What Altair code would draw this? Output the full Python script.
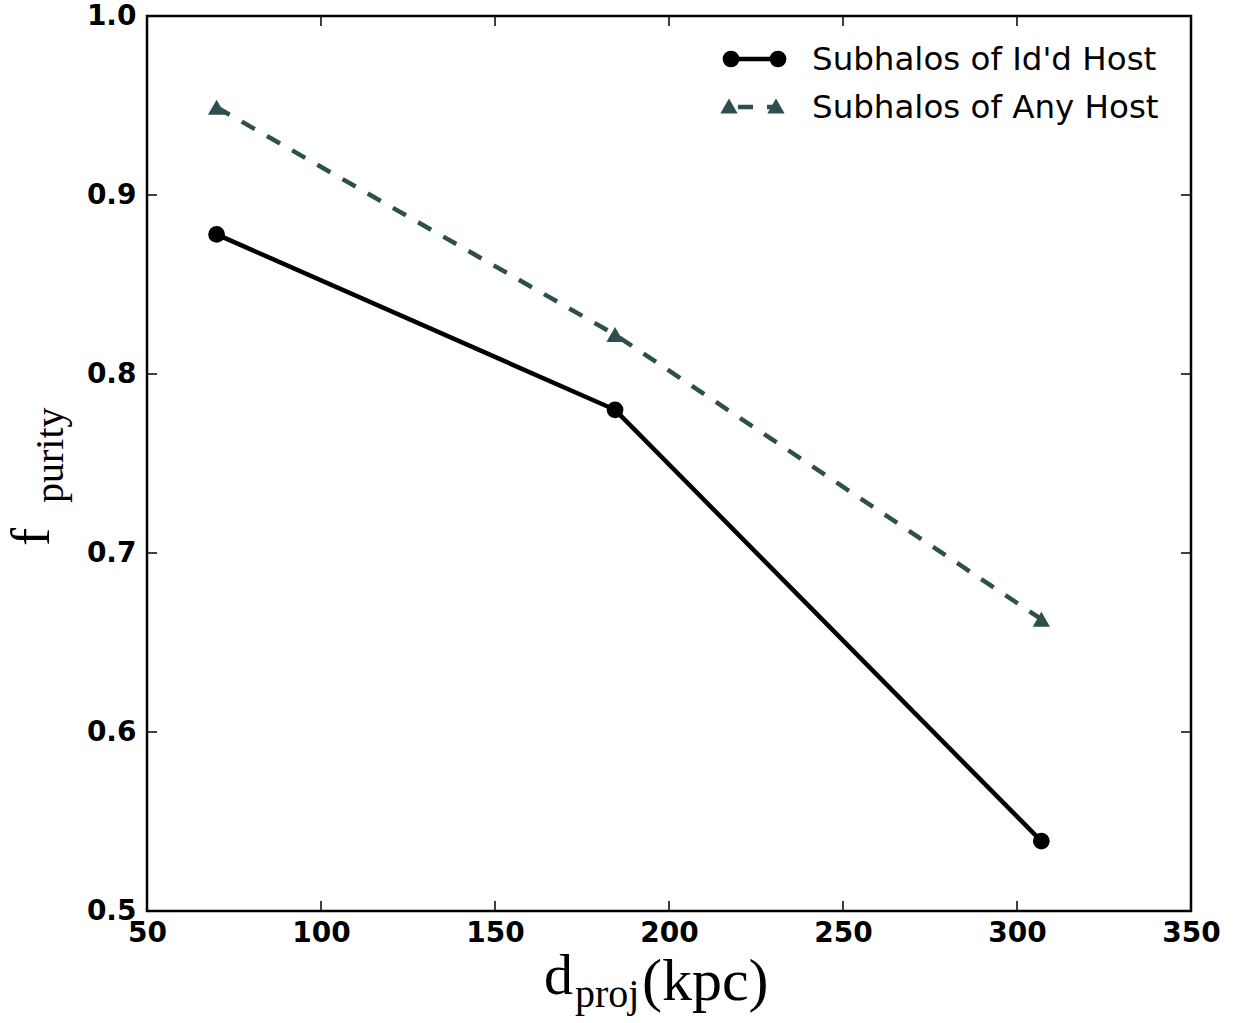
import altair as alt
import pandas as pd

# data
d_proj = [70, 184.5, 307]
f_idd = [0.878, 0.780, 0.539]
f_any = [0.949, 0.822, 0.663]
series_names = ["Subhalos of Id'd Host", "Subhalos of Any Host"]
x_ticks = [50, 100, 150, 200, 250, 300, 350]
y_ticks = [0.5, 0.6, 0.7, 0.8, 0.9, 1.0]

W, H = 1044, 895
DARK = "#2F4F4F"

df_idd = pd.DataFrame({"x": d_proj, "y": f_idd})
df_any = pd.DataFrame({"x": d_proj, "y": f_any})

xs = alt.Scale(domain=[50, 350], nice=False, zero=False)
ys = alt.Scale(domain=[0.5, 1.0], nice=False, zero=False)

xenc = alt.X("x:Q", scale=xs, axis=alt.Axis(
    values=x_ticks, format="d", title=None, domain=False, ticks=False, grid=False,
    labelFont="DejaVu Sans", labelFontWeight="bold", labelFontSize=28, labelFlush=False,
    labelOverlap=False, labelBound=False,
    labelColor="black", labelPadding=8))
yenc = alt.Y("y:Q", scale=ys, axis=alt.Axis(
    values=y_ticks, format=".1f", title=None, domain=False, ticks=False, grid=False,
    labelFont="DejaVu Sans", labelFontWeight="bold", labelFontSize=28, labelFlush=False,
    labelOverlap=False, labelBound=False,
    labelColor="black", labelPadding=11))

LW = 4.5
line_idd = alt.Chart(df_idd).mark_line(color="black", strokeWidth=LW).encode(x=xenc, y=yenc)
pts_idd = alt.Chart(df_idd).mark_point(filled=True, shape="circle", size=280, color="black", opacity=1).encode(
    x=alt.X("x:Q", scale=xs), y=alt.Y("y:Q", scale=ys))
line_any = alt.Chart(df_any).mark_line(color=DARK, strokeWidth=LW, strokeDash=[15, 14]).encode(
    x=alt.X("x:Q", scale=xs), y=alt.Y("y:Q", scale=ys))
pts_any = alt.Chart(df_any).mark_point(filled=True, shape="triangle-up", size=300, color=DARK, opacity=1).encode(
    x=alt.X("x:Q", scale=xs), y=alt.Y("y:Q", scale=ys))

# inside ticks on all four sides
dfx = pd.DataFrame({"x": x_ticks})
dfy = pd.DataFrame({"y": y_ticks})
tk = dict(color="black", strokeWidth=1.5)
xt_b = alt.Chart(dfx).mark_rule(**tk).encode(x=alt.X("x:Q", scale=xs), y=alt.value(H), y2=alt.value(H - 10))
xt_t = alt.Chart(dfx).mark_rule(**tk).encode(x=alt.X("x:Q", scale=xs), y=alt.value(0), y2=alt.value(10))
yt_l = alt.Chart(dfy).mark_rule(**tk).encode(y=alt.Y("y:Q", scale=ys), x=alt.value(0), x2=alt.value(10))
yt_r = alt.Chart(dfy).mark_rule(**tk).encode(y=alt.Y("y:Q", scale=ys), x=alt.value(W), x2=alt.value(W - 10))

# legend
one = pd.DataFrame({"a": [0]})
R1, R2 = 43, 91
leg_line1 = alt.Chart(one).mark_rule(color="black", strokeWidth=LW).encode(
    x=alt.value(584), x2=alt.value(631), y=alt.value(R1))
leg_pts1 = alt.Chart(pd.DataFrame({"px": [584, 631]})).mark_point(
    filled=True, shape="circle", size=280, color="black", opacity=1).encode(
    x=alt.X("px:Q", scale=None), y=alt.value(R1))
leg_line2 = alt.Chart(one).mark_rule(color=DARK, strokeWidth=LW, strokeDash=[15, 14], strokeDashOffset=-9).encode(
    x=alt.value(582), x2=alt.value(629), y=alt.value(R2))
leg_pts2 = alt.Chart(pd.DataFrame({"px": [582, 629]})).mark_point(
    filled=True, shape="triangle-up", size=300, color=DARK, opacity=1).encode(
    x=alt.X("px:Q", scale=None), y=alt.value(R2 - 1))
leg_txt1 = alt.Chart(one).mark_text(align="left", baseline="middle", font="DejaVu Sans", fontSize=32.5,
                                    color="black").encode(
    x=alt.value(665), y=alt.value(R1 + 1), text=alt.value(series_names[0]))
leg_txt2 = alt.Chart(one).mark_text(align="left", baseline="middle", font="DejaVu Sans", fontSize=32.5,
                                    color="black").encode(
    x=alt.value(665), y=alt.value(R2 + 1), text=alt.value(series_names[1]))

# axis titles (with subscripts)
SERIF = "Liberation Serif"
xt1 = alt.Chart(one).mark_text(align="left", baseline="alphabetic", font=SERIF, fontSize=58, color="black").encode(
    x=alt.value(544 - 147), y=alt.value(994 - 16), text=alt.value("d"))
xt2 = alt.Chart(one).mark_text(align="left", baseline="alphabetic", font=SERIF, fontSize=40, color="black").encode(
    x=alt.value(575 - 147), y=alt.value(1007 - 16), text=alt.value("proj"))
xt3 = alt.Chart(one).mark_text(align="left", baseline="alphabetic", font=SERIF, fontSize=60, color="black").encode(
    x=alt.value(642 - 147), y=alt.value(1000 - 16), text=alt.value("(kpc)"))
yt1 = alt.Chart(one).mark_text(align="left", baseline="alphabetic", font=SERIF, fontSize=54, color="black",
                               angle=270).encode(
    x=alt.value(49 - 147), y=alt.value(546 - 16), text=alt.value("f"))
yt2 = alt.Chart(one).mark_text(align="left", baseline="alphabetic", font=SERIF, fontSize=40, color="black",
                               angle=270).encode(
    x=alt.value(63 - 147), y=alt.value(503 - 16), text=alt.value("purity"))

chart = alt.layer(
    line_idd, line_any, pts_idd, pts_any,
    xt_b, xt_t, yt_l, yt_r,
    leg_line1, leg_pts1, leg_line2, leg_pts2, leg_txt1, leg_txt2,
    xt1, xt2, xt3, yt1, yt2,
).properties(
    width=W, height=H,
    autosize=alt.AutoSizeParams(type="none"),
    padding={"left": 147, "top": 16, "right": 46, "bottom": 112},
    background="white",
).configure_view(stroke="black", strokeWidth=2.5)

chart.save("out.html", embed_options={"renderer": "svg", "actions": False})
